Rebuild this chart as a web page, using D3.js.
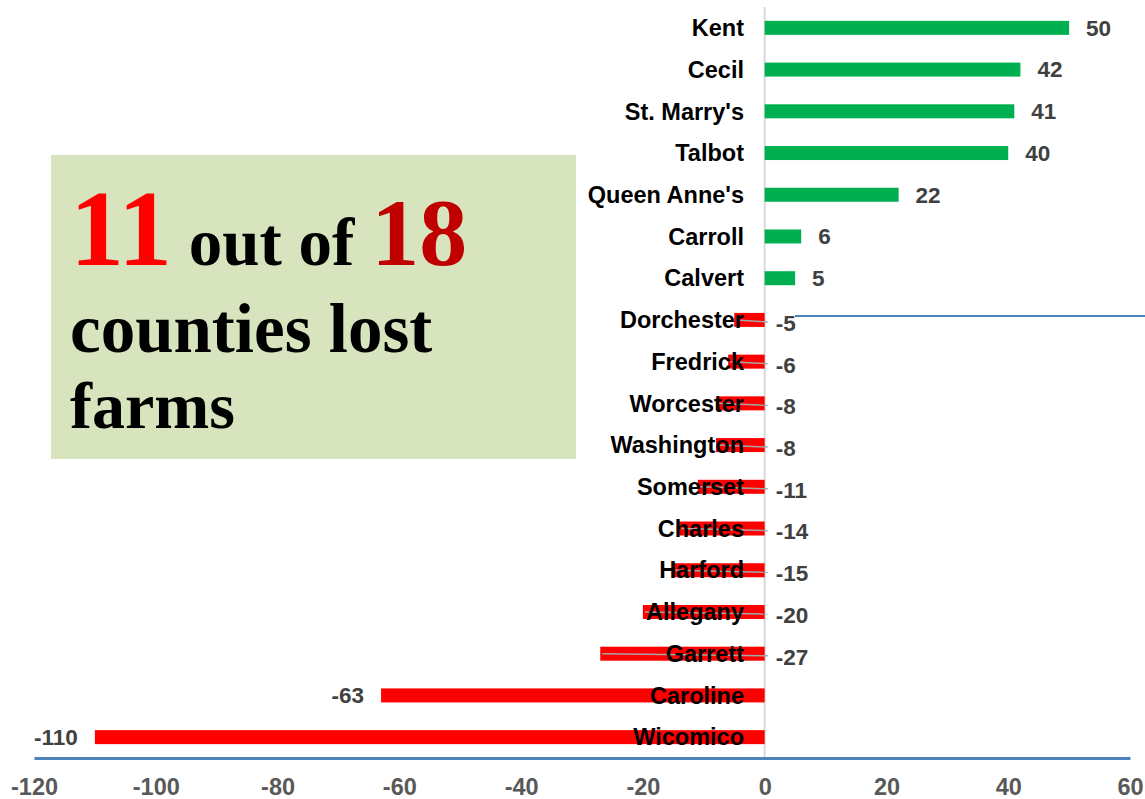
<!DOCTYPE html>
<html>
<head>
<meta charset="utf-8">
<script src="https://cdn.jsdelivr.net/npm/d3@7"></script>
<style>
  body { margin: 0; background: #fff; }
  svg { display: block; }
</style>
</head>
<body>
<div id="chart"></div>
<script>
//Data: change in number of farms by county
var counties = ["Kent", "Cecil", "St. Marry's", "Talbot", "Queen Anne's", "Carroll", "Calvert",
  "Dorchester", "Fredrick", "Worcester", "Washington", "Somerset", "Charles", "Harford",
  "Allegany", "Garrett", "Caroline", "Wicomico"];
var changes = [50, 42, 41, 40, 22, 6, 5, -5, -6, -8, -8, -11, -14, -15, -20, -27, -63, -110];
var xTicks = [-120, -100, -80, -60, -40, -20, 0, 20, 40, 60];

var data = counties.map(function (c, i) {
  return { county: c, value: changes[i] };
});

var width = 1145, height = 799;

var svg = d3.select("#chart").append("svg")
  .attr("width", width)
  .attr("height", height);

var x = d3.scaleLinear().domain([-120, 60]).range([34, 1130]);
var y = d3.scaleBand().domain(counties).range([7, 758]).padding(0);
var barH = 14;
var x0 = x(0);

//Callout box
svg.append("rect")
  .attr("x", 51).attr("y", 155)
  .attr("width", 525).attr("height", 304)
  .attr("fill", "#D7E4BD");

var t1 = svg.append("text")
  .attr("x", 70).attr("y", 265)
  .style("font-family", "'Liberation Serif', 'DejaVu Serif', serif")
  .style("font-weight", "bold");
t1.append("tspan").attr("fill", "#FF0000").style("font-size", "108px").text("11");
t1.append("tspan").attr("fill", "#000").style("font-size", "67px").text(" out of ");
t1.append("tspan").attr("fill", "#C00000").style("font-size", "96px").text("18");

svg.append("text")
  .attr("x", 70).attr("y", 352)
  .style("font-family", "'Liberation Serif', 'DejaVu Serif', serif")
  .style("font-weight", "bold")
  .style("font-size", "69px")
  .text("counties lost");

svg.append("text")
  .attr("x", 70).attr("y", 428)
  .style("font-family", "'Liberation Serif', 'DejaVu Serif', serif")
  .style("font-weight", "bold")
  .style("font-size", "66px")
  .text("farms");

//Stray line left in the original
svg.append("line")
  .attr("x1", 795).attr("x2", 1145)
  .attr("y1", 316).attr("y2", 316)
  .attr("stroke", "#4F81BD")
  .attr("stroke-width", 2);

//Zero line
svg.append("line")
  .attr("x1", x0).attr("x2", x0)
  .attr("y1", 7).attr("y2", 758)
  .attr("stroke", "#D9D9D9")
  .attr("stroke-width", 2);

//Bars
svg.selectAll(".bar")
  .data(data)
  .enter()
  .append("rect")
  .attr("class", "bar")
  .attr("x", function (d) { return x(Math.min(0, d.value)); })
  .attr("y", function (d) { return y(d.county) + y.bandwidth() / 2 - barH / 2; })
  .attr("width", function (d) { return Math.abs(x(d.value) - x0); })
  .attr("height", barH)
  .attr("fill", function (d) { return d.value >= 0 ? "#00B050" : "#FF0000"; });

//Leader lines for moved negative labels
var moved = data.filter(function (d) { return d.value < 0 && d.value > -40; });
svg.selectAll(".leader")
  .data(moved)
  .enter()
  .append("line")
  .attr("class", "leader")
  .attr("x1", function (d) { return x(d.value) + 2; })
  .attr("x2", x0 + 3)
  .attr("y1", function (d) { return y(d.county) + y.bandwidth() / 2; })
  .attr("y2", function (d) { return y(d.county) + y.bandwidth() / 2 + 2; })
  .attr("stroke", "#A6A6A6")
  .attr("stroke-width", 1.5);

//Category labels
svg.selectAll(".cat")
  .data(data)
  .enter()
  .append("text")
  .attr("class", "cat")
  .attr("x", 744)
  .attr("y", function (d) { return y(d.county) + y.bandwidth() / 2; })
  .attr("dy", "0.35em")
  .attr("text-anchor", "end")
  .style("font-family", "'Liberation Sans', Arial, sans-serif")
  .style("font-weight", "bold")
  .style("font-size", "23.5px")
  .attr("fill", "#000")
  .text(function (d) { return d.county; });

//Value labels
svg.selectAll(".val")
  .data(data)
  .enter()
  .append("text")
  .attr("class", "val")
  .attr("x", function (d) {
    if (d.value >= 0) return x(d.value) + 17;
    if (d.value > -40) return x0 + 11;
    return x(d.value) - 17;
  })
  .attr("y", function (d) {
    var c = y(d.county) + y.bandwidth() / 2;
    return d.value < 0 && d.value > -40 ? c + 3 : c;
  })
  .attr("dy", "0.35em")
  .attr("text-anchor", function (d) { return d.value <= -40 ? "end" : "start"; })
  .style("font-family", "'Liberation Sans', Arial, sans-serif")
  .style("font-weight", "bold")
  .style("font-size", "22.5px")
  .attr("fill", "#404040")
  .text(function (d) { return d.value; });

//X axis
var xAxis = svg.append("g")
  .attr("transform", "translate(0,758)")
  .call(d3.axisBottom(x).tickValues(xTicks).tickSize(0).tickPadding(20)
    .tickFormat(function (d) { return String(d); }));
xAxis.select(".domain")
  .attr("stroke", "#4F81BD")
  .attr("stroke-width", 3);
xAxis.selectAll(".tick text")
  .style("font-family", "'Liberation Sans', Arial, sans-serif")
  .style("font-weight", "bold")
  .style("font-size", "23.5px")
  .attr("fill", "#595959");
</script>
</body>
</html>
